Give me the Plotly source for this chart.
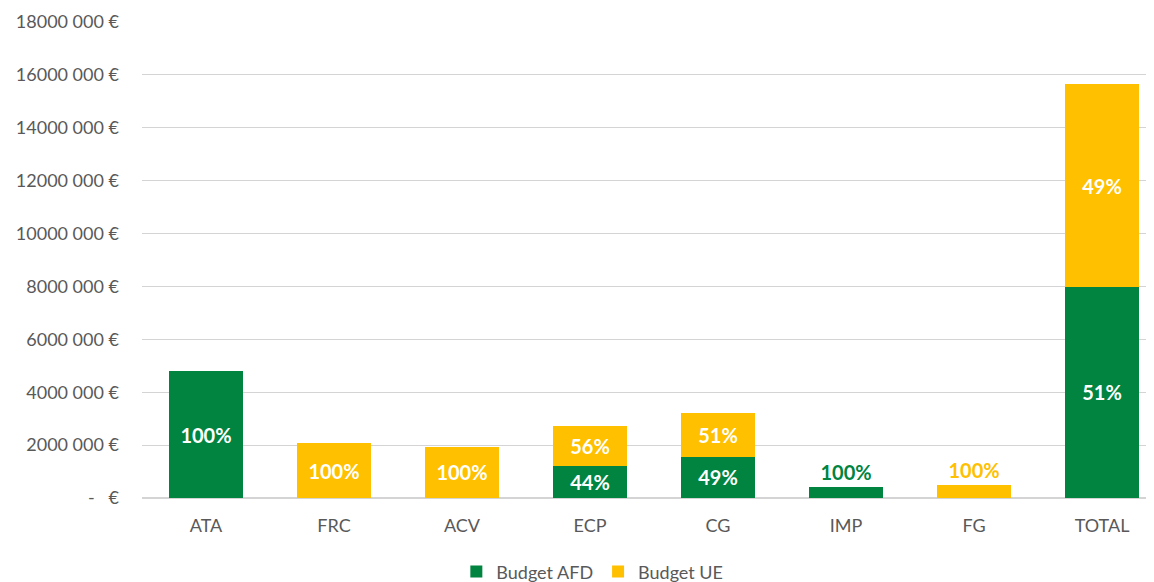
import plotly.graph_objects as go

categories = ["ATA", "FRC", "ACV", "ECP", "CG", "IMP", "FG", "TOTAL"]
budget_afd = [4800000, 0, 0, 1200000, 1560000, 420000, 0, 7980000]
budget_ue = [0, 2080000, 1930000, 1520000, 1650000, 0, 490000, 7670000]
tick_vals = [0, 2000000, 4000000, 6000000, 8000000, 10000000, 12000000, 14000000, 16000000, 18000000]
tick_text = ["-   €", "2000 000 €", "4000 000 €", "6000 000 €", "8000 000 €", "10000 000 €",
             "12000 000 €", "14000 000 €", "16000 000 €", "18000 000 €"]
outside_cats = ["IMP", "FG"]

GREEN = "#00843F"
YELLOW = "#FFC000"
FONT = "Lato"

def build(values, color):
    ys, texts, pos, cols = [], [], [], []
    for c, v, a, u in zip(categories, values, budget_afd, budget_ue):
        tot = a + u
        if v:
            ys.append(v)
            texts.append(f"{round(100 * v / tot)}%")
        else:
            ys.append(None)
            texts.append("")
        if c in outside_cats:
            pos.append("outside")
            cols.append(color)
        else:
            pos.append("inside")
            cols.append("white")
    return ys, texts, pos, cols

fig = go.Figure()
for name, vals, color in [("Budget AFD", budget_afd, GREEN), ("Budget UE", budget_ue, YELLOW)]:
    ys, texts, pos, cols = build(vals, color)
    fig.add_trace(go.Bar(
        x=categories, y=ys, name=name, marker=dict(color=color, line=dict(width=0)),
        text=texts, textposition=pos, insidetextanchor="middle",
        textfont=dict(family=FONT, size=20, color=cols, weight="bold"),
        cliponaxis=False, constraintext="none",
    ))

fig.update_layout(
    barmode="stack",
    bargap=0.42,
    width=1146, height=574,
    margin=dict(l=134, r=0, t=14, b=84, autoexpand=False),
    plot_bgcolor="white", paper_bgcolor="white",
    font=dict(family=FONT, size=18, color="#595959"),
    showlegend=True,
    legend=dict(orientation="h", x=0.445, xanchor="center", y=-0.155, yanchor="middle",
                font=dict(family=FONT, size=18, color="#595959"), traceorder="normal",
                itemwidth=30, tracegroupgap=0),
)
fig.update_xaxes(range=[-0.5, 7.406], showgrid=False, ticks="", showline=False,
                 automargin=False, ticklabelstandoff=15,
                 tickfont=dict(family=FONT, size=18, color="#595959"))
fig.update_yaxes(range=[0, 18000000], tickvals=tick_vals, ticktext=tick_text,
                 showgrid=True, gridcolor="#D4D4D4", gridwidth=1.2,
                 zeroline=True, zerolinecolor="#D4D4D4", zerolinewidth=2,
                 ticks="", ticklabelstandoff=22, automargin=False,
                 tickfont=dict(family=FONT, size=18, color="#595959"))

fig.write_html("out.html")
